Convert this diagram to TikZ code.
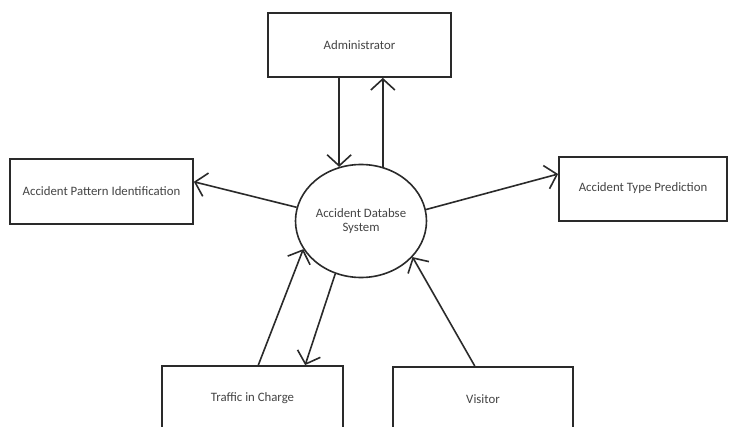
\documentclass[tikz,border=0pt]{standalone}
\usepackage{fontspec}
\setmainfont{Carlito}
\usetikzlibrary{shapes.geometric,arrows.meta}
\definecolor{linec}{HTML}{2A2A2A}
\definecolor{textc}{HTML}{444444}
\tikzset{
  box/.style={draw=linec, line width=1.8pt, rectangle, inner sep=0pt, text=textc, font=\fontsize{12.8}{14}\selectfont},
  dbnode/.style={draw=linec, line width=1.6pt, ellipse, inner sep=0pt, minimum width=131pt, minimum height=113pt, text=textc, align=center, font=\fontsize{12.8}{14.5}\selectfont},
  arr/.style={draw=linec, line width=1.6pt, -{Straight Barb[length=11pt,width=24pt,line width=1.6pt]}}
}
\begin{document}
\begin{tikzpicture}[x=1pt,y=-1pt]
\clip (0,0) rectangle (730,427);
\fill[white] (0,0) rectangle (730,427);
\node[box, minimum width=183pt, minimum height=64pt] (admin) at (359.5,45) {Administrator};
\node[box, minimum width=183pt, minimum height=65pt] (pattern) at (101.5,191.5) {Accident Pattern Identification};
\node[box, minimum width=168pt, minimum height=64pt] (typ) at (643,189) {\raisebox{3pt}{Accident Type Prediction}};
\node[box, minimum width=181pt, minimum height=64pt] (traffic) at (252.5,398) {Traffic in Charge};
\node[box, minimum width=180pt, minimum height=64pt] (visitor) at (483,399) {Visitor};
\node[dbnode] (db) at (361,221) {Accident Databse\\System};
\draw[arr] (admin.south -| db.112) -- (db.112);
\draw[arr] (db.68) -- (db.68 |- admin.south);
\draw[arr] (db.168) -- (pattern.6);
\draw[arr] (db.10) -- (typ.170);
\draw[arr] (traffic.80) -- (db.206);
\draw[arr] (db.244) -- (traffic.32);
\draw[arr] (visitor.104) -- (db.325);
\end{tikzpicture}
\end{document}
